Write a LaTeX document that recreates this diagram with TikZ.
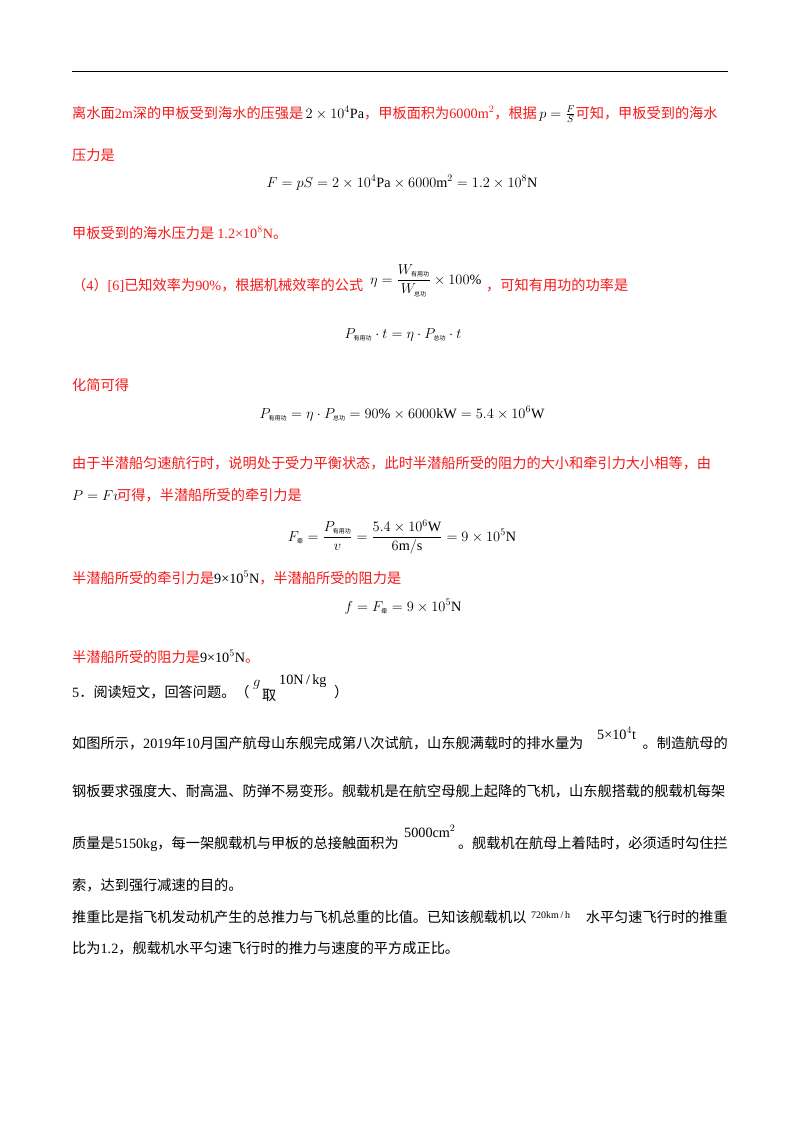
\documentclass[tikz,border=0pt]{standalone}
\usepackage{fontspec}
\setmainfont{Noto Sans CJK SC}
\setmathrm{Liberation Serif}
\newfontfamily\tnr{Liberation Serif}
\definecolor{tred}{RGB}{245,25,25}
\newcommand\zs[1]{\mbox{\fontsize{6}{6}\selectfont #1}}
\begin{document}
\begin{tikzpicture}[x=1pt,y=-1pt,
  t/.style={anchor=base west,inner sep=0pt,font=\fontsize{14.2}{16}\selectfont},
  te/.style={anchor=base east,inner sep=0pt,font=\fontsize{14.2}{16}\selectfont},
  tc/.style={anchor=base,inner sep=0pt,font=\fontsize{14.2}{16}\selectfont},
  r/.style={text=tred}]
\useasboundingbox[fill=white] (0,0) rectangle (800,1132);
\draw[line width=1pt] (72,72) coordinate (ra) -- (728,72) coordinate (rb);
\node[t,r] (l1) at (72,118) {离水面{\tnr 2m}深的甲板受到海水的压强是$\,{\color{black}2\times10^4\mathrm{Pa}}$，甲板面积为{\tnr 6000m$^2$}，根据${\color{black}\,p=\frac{F}{S}}$可知，甲板受到的海水};
\node[t,r] (l2) at (72,160) {压力是};
\node[tc] (l3) at (402,187) {$F=pS=2\times10^4\mathrm{Pa}\times6000\mathrm{m}^2=1.2\times10^8\mathrm{N}$};
\node[t,r] (l4) at (72,238) {甲板受到的海水压力是 {\tnr 1.2×10$^8$N}。};
\node[t,r] (l5) at (72,290) {（{\tnr 4}）{\tnr [6]}已知效率为{\tnr 90\%}，根据机械效率的公式};
\node[t] (l5b) at (370,284) {$\eta=\displaystyle\frac{W_{\zs{有用功}}}{W_{\zs{总功}}}\times100\%$};
\node[t,r] (l5c) at (486,290) {，可知有用功的功率是};
\node[tc] (l6) at (403,338) {$P_{\zs{有用功}}\cdot t=\eta\cdot P_{\zs{总功}}\cdot t$};
\node[t,r] (l7) at (72,390) {化简可得};
\node[tc] (l8) at (402,418) {$P_{\zs{有用功}}=\eta\cdot P_{\zs{总功}}=90\%\times6000\mathrm{kW}=5.4\times10^6\mathrm{W}$};
\node[t,r] (l9) at (72,468) {由于半潜船匀速航行时，说明处于受力平衡状态，此时半潜船所受的阻力的大小和牵引力大小相等，由};
\node[t] (l10) at (72,500) {$P=Fv$};
\node[t,r] (l10b) at (117,500) {可得，半潜船所受的牵引力是};
\node[tc] (l11) at (402,541) {$F_{\zs{牵}}=\displaystyle\frac{P_{\zs{有用功}}}{v}=\frac{5.4\times10^6\mathrm{W}}{6\mathrm{m/s}}=9\times10^5\mathrm{N}$};
\node[t,r] (l12) at (72,583) {半潜船所受的牵引力是{\color{black}\tnr 9×10$^5$N}，半潜船所受的阻力是};
\node[tc] (l13) at (403,611) {$f=F_{\zs{牵}}=9\times10^5\mathrm{N}$};
\node[t,r] (l14) at (72,662) {半潜船所受的阻力是{\color{black}\tnr 9×10$^5$N}。};
\node[t] (l15) at (72,697) {{\tnr 5}．阅读短文，回答问题。（};
\node[t] (g) at (253,686) {$g$};
\node[t] (qu) at (262,700) {取};
\node[t] (gv) at (279,684) {\tnr 10N\,/\,kg};
\node[t] (l15b) at (334,697) {）};
\node[t] (l16) at (72,748) {如图所示，{\tnr 2019}年{\tnr 10}月国产航母山东舰完成第八次试航，山东舰满载时的排水量为};
\node[t] (m1) at (597,739) {\tnr 5×10$^4$t};
\node[te] (l16b) at (728,748) {。制造航母的};
\node[t] (l17) at (72,796) {钢板要求强度大、耐高温、防弹不易变形。舰载机是在航空母舰上起降的飞机，山东舰搭载的舰载机每架};
\node[t] (l18) at (72,848) {质量是{\tnr 5150kg}，每一架舰载机与甲板的总接触面积为};
\node[t] (m2) at (404,837) {\tnr 5000cm$^2$};
\node[te] (l18b) at (728,848) {。舰载机在航母上着陆时，必须适时勾住拦};
\node[t] (l19) at (72,890) {索，达到强行减速的目的。};
\node[t] (l20) at (72,922) {推重比是指飞机发动机产生的总推力与飞机总重的比值。已知该舰载机以};
\node[t,font=\fontsize{10}{12}\selectfont\tnr] (m3) at (531,918) {720km\,/\,h};
\node[te] (l20b) at (728,922) {水平匀速飞行时的推重};
\node[t] (l21) at (72,953) {比为{\tnr 1.2}，舰载机水平匀速飞行时的推力与速度的平方成正比。};
\end{tikzpicture}
\end{document}
